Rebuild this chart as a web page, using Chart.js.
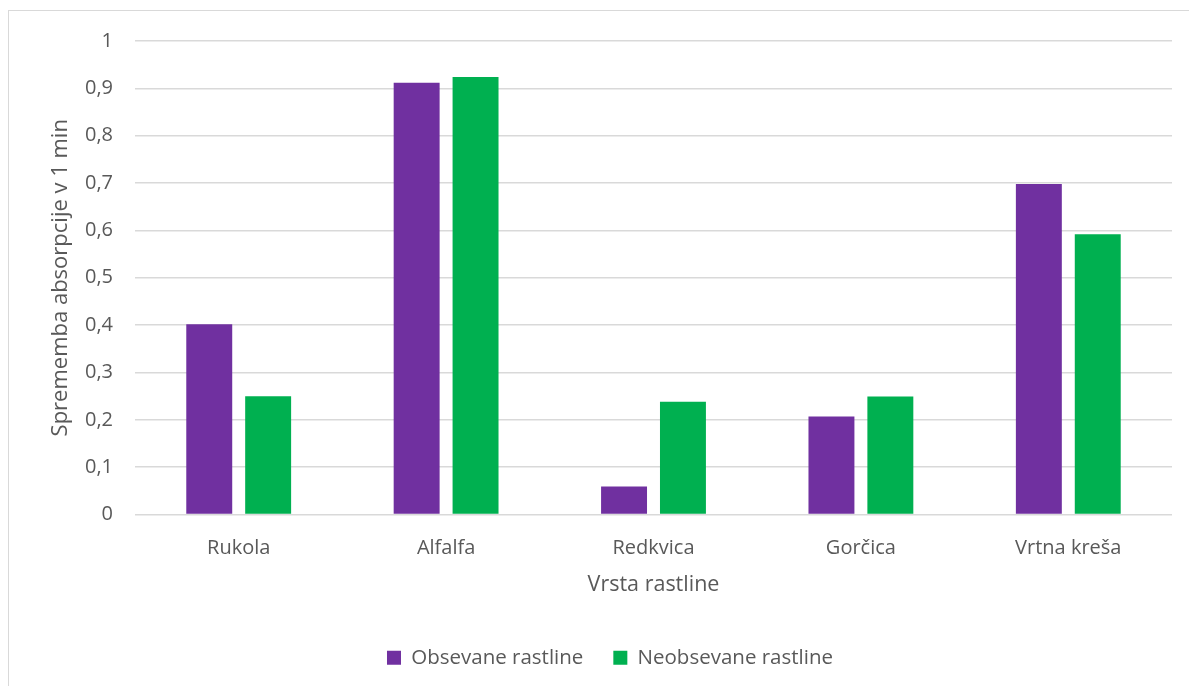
<!DOCTYPE html>
<html>
<head>
<meta charset="utf-8">
<script src="https://cdn.jsdelivr.net/npm/chart.js@4/dist/chart.umd.min.js"></script>
<style>
  html, body { margin: 0; padding: 0; background: #fff; overflow: hidden; }
  #frame { position: absolute; left: 8px; top: 10px; width: 1200px; height: 700px; border: 1.5px solid #d9d9d9; box-sizing: border-box; }
  #wrap { position: absolute; left: 0; top: 0; width: 1189px; height: 686px; }
</style>
</head>
<body>
<div id="frame"></div>
<div id="wrap"><canvas id="c" width="1189" height="686"></canvas></div>
<script>
// Sprememba absorpcije po vrstah rastlin
const categories = ['Rukola', 'Alfalfa', 'Redkvica', 'Gorčica', 'Vrtna kreša'];
const obsevane = [0.402, 0.912, 0.059, 0.207, 0.698];
const neobsevane = [0.250, 0.924, 0.238, 0.249, 0.592];
const seriesNames = ['Obsevane rastline', 'Neobsevane rastline'];
const yTicks = [0, 0.1, 0.2, 0.3, 0.4, 0.5, 0.6, 0.7, 0.8, 0.9, 1];

const textColor = '#595959';
const fontFamily = '"Open Sans", Lato, sans-serif';

new Chart(document.getElementById('c'), {
  type: 'bar',
  data: {
    labels: categories,
    datasets: [
      { label: seriesNames[0], data: obsevane, backgroundColor: '#7030A0', borderWidth: 0 },
      { label: seriesNames[1], data: neobsevane, backgroundColor: '#00B050', borderWidth: 0 }
    ]
  },
  options: {
    responsive: false,
    animation: false,
    layout: { padding: { top: 41, right: 17, bottom: 8, left: 48 } },
    datasets: { bar: { categoryPercentage: 0.568, barPercentage: 0.78 } },
    plugins: {
      legend: {
        position: 'bottom',
        labels: {
          color: textColor,
          font: { family: fontFamily, size: 20.5 },
          boxWidth: 14, boxHeight: 14, padding: 30
        }
      },
      tooltip: { enabled: false }
    },
    scales: {
      x: {
        grid: { display: false },
        border: { display: false },
        ticks: { color: textColor, font: { family: fontFamily, size: 20 }, padding: 14 },
        title: { display: true, text: 'Vrsta rastline', color: textColor, font: { family: fontFamily, size: 21.5 }, padding: { top: 4, bottom: 20 } },
        afterFit: s => { s.height = 103; }
      },
      y: {
        min: 0, max: 1,
        afterBuildTicks: s => { s.ticks = yTicks.map(v => ({ value: v })); },
        grid: { color: '#d9d9d9', lineWidth: 1.5, drawTicks: false },
        border: { display: false },
        ticks: {
          color: textColor, font: { family: fontFamily, size: 20 }, padding: 22,
          callback: v => String(v).replace('.', ',')
        },
        title: { display: true, text: 'Sprememba absorpcije v 1 min', color: textColor, font: { family: fontFamily, size: 22 }, padding: { top: 0, bottom: 0 } },
        afterFit: s => { s.width = 87; }
      }
    }
  }
});
</script>
</body>
</html>
